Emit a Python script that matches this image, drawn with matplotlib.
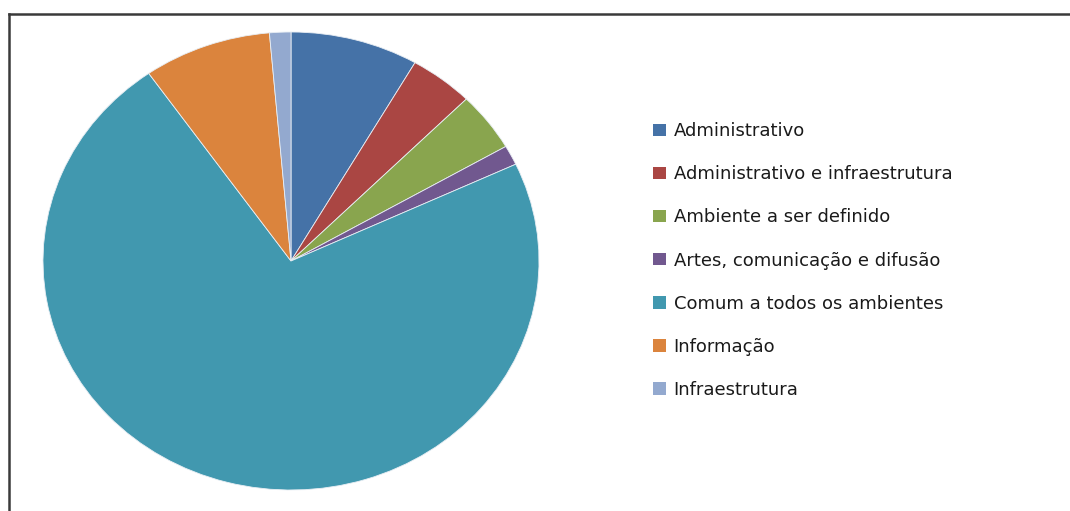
import matplotlib
matplotlib.use("Agg")
import matplotlib.pyplot as plt
from matplotlib.patches import Patch
from matplotlib.lines import Line2D

categories = [
    "Administrativo",
    "Administrativo e infraestrutura",
    "Ambiente a ser definido",
    "Artes, comunicação e difusão",
    "Comum a todos os ambientes",
    "Informação",
    "Infraestrutura",
]
values = [6, 3, 3, 1, 52, 6, 1]
colors = ["#4572A7", "#AA4643", "#89A54E", "#71588F", "#4198AF", "#DB843D", "#93A9CF"]

W, H = 1070, 511
fig = plt.figure(figsize=(W / 100, H / 100), dpi=100)
fig.patch.set_facecolor("white")

# pie axes (elliptical pie like the original)
px0, px1, py0, py1 = 43, 539, 32, 490
ax = fig.add_axes([px0 / W, (H - py1) / H, (px1 - px0) / W, (py1 - py0) / H])
wedges, _ = ax.pie(values, colors=colors, startangle=90, counterclock=False,
                   radius=1.0, wedgeprops=dict(edgecolor="#e8eef4", linewidth=0.6))
ax.set_aspect("auto")
ax.set_xlim(-1, 1)
ax.set_ylim(-1, 1)
ax.axis("off")

# legend
handles = [Patch(facecolor=c, edgecolor="none") for c in colors]
fig.legend(handles, categories, loc="upper left",
           bbox_to_anchor=(637 / W, (H - 106) / H),
           frameon=False, labelspacing=1.39,
           handlelength=0.68, handleheight=0.68, handletextpad=0.45,
           labelcolor="#1a1a1a",
           prop=dict(family="DejaVu Sans", size=13))

# frame lines (left and top)
fig.add_artist(Line2D([9 / W, 9 / W], [0, (H - 14.5) / H], color="#3a3a3a", linewidth=1.8))
fig.add_artist(Line2D([9 / W, 1], [(H - 14.5) / H, (H - 14.5) / H], color="#3a3a3a", linewidth=1.8))

fig.savefig("out.png", dpi=100, facecolor="white")
